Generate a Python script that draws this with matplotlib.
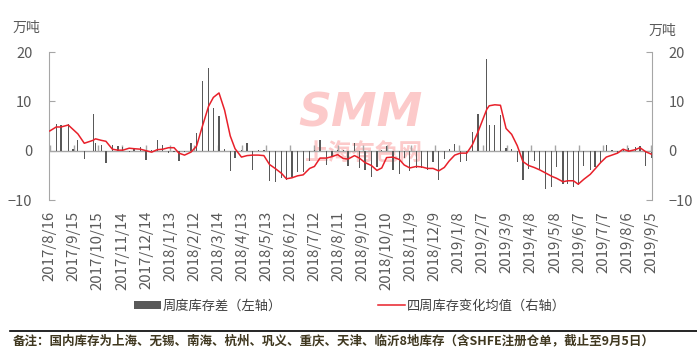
import matplotlib
matplotlib.use('Agg')
import matplotlib.pyplot as plt
from matplotlib.lines import Line2D
from matplotlib.patches import Patch
import pandas as pd

plt.rcParams['font.family'] = ['Noto Sans CJK SC', 'DejaVu Sans']

# dati (10k tonnellate)
dates = ['2017-08-16', '2017-08-24', '2017-08-30', '2017-09-08', '2017-09-14', '2017-09-20', '2017-09-28',
         '2017-10-09', '2017-10-12', '2017-10-19', '2017-10-25', '2017-11-02', '2017-11-09', '2017-11-15',
         '2017-11-23', '2017-11-29', '2017-12-07', '2017-12-14', '2017-12-21', '2017-12-28', '2018-01-04',
         '2018-01-11', '2018-01-18', '2018-01-24', '2018-01-31', '2018-02-08', '2018-02-15', '2018-02-22',
         '2018-03-02', '2018-03-08', '2018-03-15', '2018-03-22', '2018-03-29', '2018-04-04', '2018-04-12',
         '2018-04-19', '2018-04-26', '2018-05-03', '2018-05-10', '2018-05-17', '2018-05-24', '2018-06-01',
         '2018-06-07', '2018-06-14', '2018-06-21', '2018-06-28', '2018-07-06', '2018-07-12', '2018-07-19',
         '2018-07-27', '2018-08-03', '2018-08-10', '2018-08-17', '2018-08-23', '2018-08-31', '2018-09-06',
         '2018-09-13', '2018-09-21', '2018-09-28', '2018-10-04', '2018-10-10', '2018-10-18', '2018-10-26',
         '2018-11-01', '2018-11-08', '2018-11-16', '2018-11-23', '2018-11-30', '2018-12-07', '2018-12-14',
         '2018-12-21', '2018-12-27', '2019-01-03', '2019-01-10', '2019-01-18', '2019-01-25', '2019-02-01',
         '2019-02-12', '2019-02-15', '2019-02-22', '2019-03-01', '2019-03-08', '2019-03-15', '2019-03-22',
         '2019-03-29', '2019-04-05', '2019-04-12', '2019-04-19', '2019-04-26', '2019-05-04', '2019-05-10',
         '2019-05-18', '2019-05-24', '2019-05-31', '2019-06-06', '2019-06-13', '2019-06-21', '2019-06-27',
         '2019-07-04', '2019-07-11', '2019-07-18', '2019-07-25', '2019-08-01', '2019-08-08', '2019-08-16',
         '2019-08-22', '2019-08-29', '2019-09-05']

#周度库存差 (asse sinistro)
weekly_diff = [3.8, 5.5, 5.3, 5.5, 0.3, 2.1, -1.6,
               7.4, 1.5, 1.2, -2.4, 1.2, 0.9, 0.7,
               -0.3, 0.3, 0.8, -1.8, 0.1, 2.1, 1.2,
               -0.5, -0.2, -2.0, -0.2, 1.6, 3.5, 14.2,
               16.8, 8.7, 7.0, 0.3, -4.2, -1.4, 0.1,
               1.6, -4.0, 0.2, 0.1, -6.1, -6.3, -5.5,
               -5.9, -5.4, -4.4, -4.3, -2.0, 0.1, 2.1,
               -3.0, -1.1, 0.2, 0.1, -3.2, 1.5, -3.6,
               -4.0, -5.4, -3.3, 0.1, 1.0, -3.9, -4.7,
               -1.5, -4.1, -3.6, -3.5, -4.0, -2.2, -5.9,
               -1.6, 0.4, 1.4, -2.2, -2.1, 3.7, 7.4,
               18.5, 5.3, 5.3, 7.2, 0.6, 0.4, -2.2,
               -5.9, -3.8, -2.0, -3.7, -7.7, -7.3, -3.4,
               -6.8, -6.8, -7.3, -6.9, -3.2, -3.9, -3.3,
               -2.4, 1.2, 0.1, -0.5, 0.4, 0.5, 0.8,
               1.0, -3.2, -1.5]

# 四周库存变化均值 (asse destro)
avg_4w = [4.0, 4.8, 4.8, 5.2, 4.3, 3.4, 1.5,
          2.1, 2.4, 2.1, 1.9, 0.3, 0.1, 0.1,
          0.5, 0.4, 0.3, 0.0, -0.3, 0.2, 0.3,
          0.6, 0.6, -0.5, -0.9, -0.3, 0.9, 4.8,
          9.0, 10.8, 11.7, 8.2, 3.0, 0.4, -1.3,
          -1.0, -0.9, -0.9, -1.0, -2.8, -3.6, -4.6,
          -5.7, -5.5, -5.1, -4.9, -3.6, -3.2, -1.5,
          -1.5, -1.2, -0.8, -1.6, -1.7, -1.0, -1.5,
          -2.4, -3.0, -4.0, -3.5, -1.4, -1.3, -1.8,
          -2.9, -3.5, -3.2, -3.3, -3.6, -3.6, -4.1,
          -3.4, -2.1, -0.9, -0.5, -0.5, 1.2, 3.8,
          8.4, 9.1, 9.3, 9.2, 4.5, 3.3, 1.0,
          -2.2, -3.0, -3.4, -3.9, -4.5, -5.2, -5.6,
          -6.3, -6.1, -6.1, -6.8, -5.8, -4.8, -3.7,
          -2.4, -1.3, -0.9, -0.5, 0.3, -0.1, 0.2,
          0.6, -0.2, -0.7]

x = pd.to_datetime(dates)
ticks = pd.date_range('2017-08-16', '2019-09-05', freq='30D')
tick_labels = [f'{d.year}/{d.month}/{d.day}' for d in ticks]

grey = '#A6A6A6'
txt = '#595959'
red = '#E8202A'

fig = plt.figure(figsize=(6.97, 3.58), dpi=100)
ax = fig.add_axes([49 / 697, 1 - 200 / 358, 603 / 697, 148 / 358])

# watermark
ax.text(0.516, 0.58, 'SMM', transform=ax.transAxes, fontsize=33, fontweight='heavy',
        style='italic', family='DejaVu Sans', color='#FCCACA', ha='center', va='center', zorder=0)
ax.text(0.522, 0.32, '上海有色网', transform=ax.transAxes, fontsize=17, fontweight='bold',
        color='#FCCACA', ha='center', va='center', zorder=0)

ax.bar(x, weekly_diff, width=1.5, color='#595959', linewidth=0, zorder=2)
ax.axhline(0, color=grey, lw=1, zorder=1)
# tacche dell'asse x sulla linea dello zero
ax.plot(ticks, [0] * len(ticks), linestyle='none', marker=2, markersize=4,
        markeredgewidth=1, color=grey, zorder=1)

ax.set_ylim(-10, 20)
ax.set_yticks([-10, 0, 10, 20])
ax.set_xlim(pd.Timestamp('2017-08-15'), pd.Timestamp('2019-09-06'))
ax.set_xticks(ticks)
ax.set_xticklabels(tick_labels, rotation=90, fontsize=10.8, color=txt)
ax.tick_params(axis='x', length=0, pad=8)
ax.tick_params(axis='y', direction='in', length=4, color=grey, labelsize=10.5,
               labelcolor=txt, pad=12)
for s in ['top', 'bottom', 'right']:
    ax.spines[s].set_visible(False)
ax.spines['left'].set_color(grey)

ax2 = ax.twinx()
ax2.plot(x, avg_4w, color=red, lw=1.1, zorder=3)
ax2.set_ylim(-10, 20)
ax2.set_yticks([-10, 0, 10, 20])
ax2.tick_params(axis='y', direction='in', length=4, color=grey, labelsize=10.5,
                labelcolor=txt, pad=12)
for s in ['top', 'bottom', 'left']:
    ax2.spines[s].set_visible(False)
ax2.spines['right'].set_color(grey)

fig.text(13 / 697, 1 - 28 / 358, '万吨', fontsize=10, color=txt, va='center')
fig.text(649 / 697, 1 - 31 / 358, '万吨', fontsize=10, color=txt, va='center')

handles = [Patch(facecolor='#595959', edgecolor='none'), Line2D([], [], color=red, lw=1.1)]
fig.legend(handles, ['周度库存差（左轴）', '四周库存变化均值（右轴）'], loc='center',
           bbox_to_anchor=(0.502, 1 - 306 / 358), ncol=2, frameon=False, fontsize=9.5,
           handlelength=2.0, handleheight=0.5, handletextpad=0.15, columnspacing=7.3,
           labelcolor='#404040')

fig.add_artist(Line2D([10 / 697, 1], [1 - 331 / 358, 1 - 331 / 358], color='black', lw=1.2,
                      transform=fig.transFigure))
fig.text(13 / 697, 1 - 341 / 358,
         '备注：国内库存为上海、无锡、南海、杭州、巩义、重庆、天津、临沂8地库存（含SHFE注册仓单，截止至9月5日）',
         fontsize=9, fontweight='bold', color='#403820', va='center')

fig.savefig('out.png', dpi=100)
